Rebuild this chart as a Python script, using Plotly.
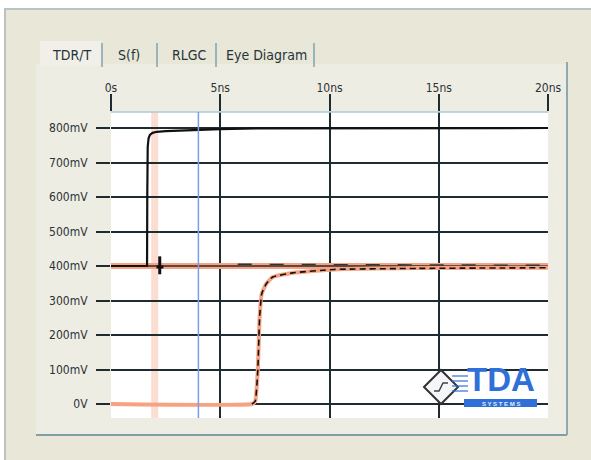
import plotly.graph_objects as go

# ---------------- data ----------------
x_tick_vals = [0, 5, 10, 15, 20]
x_tick_text = ["0s", "5ns", "10ns", "15ns", "20ns"]
y_tick_vals = [0, 100, 200, 300, 400, 500, 600, 700, 800]
y_tick_text = ["0V", "100mV", "200mV", "300mV", "400mV", "500mV", "600mV", "700mV", "800mV"]

# incident level (orange, flat)
inc_t = [0, 20]
inc_v = [400, 400]

# transmitted waveform (orange, simulated)
trans_t = [0, 6.45, 6.6, 6.72, 6.8, 6.9, 7.1, 7.4, 8.3, 10.2, 14, 20]
trans_v = [0, 0, 8, 100, 250, 320, 348, 368, 380, 390, 394, 395]

# measured transmitted (black dashed)
meas_t = [6.45, 6.6, 6.72, 6.8, 6.9, 7.1, 7.4, 8.3, 10.2, 14, 20]
meas_v = [0, 8, 100, 250, 320, 348, 368, 380, 390, 393, 395]

# baseline level (thin black over the orange band)
base_t = [0, 20]
base_v = [400, 400]

# measured near 400 mV (black dashed)
ref_t = [5.8, 10, 15, 20]
ref_v = [405, 404, 403, 402]

# TDR waveform (black)
tdr_t = [0, 1.65, 1.66, 1.68, 1.72, 1.78, 1.9, 2.1, 2.5, 3.5, 4.0, 5.0, 6.7, 20]
tdr_v = [400, 400, 600, 745, 770, 780, 786, 789, 791, 793, 796, 797, 799, 800]

# small glitch near the cursor
gl_t = [2.23, 2.23, None, 2.08, 2.4]
gl_v = [428, 376, None, 397, 397]

cursor_a = 2.0
cursor_b = 4.0

# ---------------- geometry helpers ----------------
W, H = 591, 460
L, R, T, B = 111, 548, 112, 418
X0, X1 = 0.0, 20.0
PX_PER_MV = 0.345
Y_TOP = 800 + (128 - T) / PX_PER_MV
Y_BOT = -(B - 404) / PX_PER_MV


def px(x):
    return (x - L) / (R - L)


def py(y):
    return (B - y) / (B - T)


FONT = "DejaVu Sans Condensed, Liberation Sans Narrow, Arial Narrow, sans-serif"
GRID = "#1e2c32"
ORANGE = "#f5a383"
BLUE = "#2f6fd8"

fig = go.Figure()

fig.add_trace(go.Scatter(x=inc_t, y=inc_v, mode="lines",
                         line=dict(color=ORANGE, width=6), hoverinfo="skip"))
fig.add_trace(go.Scatter(x=base_t, y=base_v, mode="lines",
                         line=dict(color="#2a2a2a", width=1.3), hoverinfo="skip"))
fig.add_trace(go.Scatter(x=trans_t, y=trans_v, mode="lines",
                         line=dict(color=ORANGE, width=4, shape="spline", smoothing=0.4),
                         hoverinfo="skip"))
fig.add_trace(go.Scatter(x=meas_t, y=meas_v, mode="lines",
                         line=dict(color="#111", width=1.6, dash="6px,4px",
                                   shape="spline", smoothing=0.4), hoverinfo="skip"))
fig.add_trace(go.Scatter(x=ref_t, y=ref_v, mode="lines",
                         line=dict(color="#333", width=1.4, dash="14px,18px"), hoverinfo="skip"))
fig.add_trace(go.Scatter(x=tdr_t, y=tdr_v, mode="lines",
                         line=dict(color="#111", width=2.2), hoverinfo="skip"))
fig.add_trace(go.Scatter(x=gl_t, y=gl_v, mode="lines",
                         line=dict(color="#111", width=3), hoverinfo="skip"))

shapes = []
# window frame
shapes.append(dict(type="rect", xref="paper", yref="paper", layer="below",
                   x0=px(5), x1=px(593), y0=py(462), y1=py(9),
                   fillcolor="#e9e7d8", line=dict(color="#b9c3c2", width=2)))
# tab panel
shapes.append(dict(type="rect", xref="paper", yref="paper", layer="below",
                   x0=px(36), x1=px(567), y0=py(435), y1=py(64),
                   fillcolor="#eeede3", line=dict(width=0)))
shapes.append(dict(type="line", xref="paper", yref="paper", layer="below",
                   x0=px(36), x1=px(567), y0=py(435), y1=py(435),
                   line=dict(color="#7f9ea8", width=2)))
shapes.append(dict(type="line", xref="paper", yref="paper", layer="below",
                   x0=px(567), x1=px(567), y0=py(435), y1=py(62),
                   line=dict(color="#8fa9b0", width=2)))
# selected tab
shapes.append(dict(type="rect", xref="paper", yref="paper", layer="below",
                   x0=px(40), x1=px(101), y0=py(66), y1=py(41),
                   fillcolor="#f1f0e8", line=dict(width=0)))
for sx in [102, 157, 216, 314]:
    shapes.append(dict(type="line", xref="paper", yref="paper", layer="below",
                       x0=px(sx), x1=px(sx), y0=py(67), y1=py(43),
                       line=dict(color="#7fa3b3", width=1.5)))
# plot area background (white)
shapes.append(dict(type="rect", xref="paper", yref="paper", layer="below",
                   x0=0, x1=1, y0=0, y1=1, fillcolor="#ffffff", line=dict(width=0)))
# plot area top border (light blue)
shapes.append(dict(type="line", xref="paper", yref="paper",
                   x0=0, x1=1, y0=1, y1=1, line=dict(color="#a9cbd8", width=1.5)))
# cursors
shapes.append(dict(type="line", xref="x", yref="paper", layer="below",
                   x0=cursor_a, x1=cursor_a, y0=0, y1=1,
                   line=dict(color="rgba(247,170,140,0.4)", width=7)))
shapes.append(dict(type="line", xref="x", yref="paper",
                   x0=cursor_b, x1=cursor_b, y0=0, y1=1,
                   line=dict(color="#7d9ce8", width=1.5)))

# logo: diamond
cx, cy, r = 441, 387, 17
shapes.append(dict(type="path", xref="paper", yref="paper",
                   path=f"M {px(cx-r)} {py(cy)} L {px(cx)} {py(cy-r)} L {px(cx+r)} {py(cy)} L {px(cx)} {py(cy+r)} Z",
                   fillcolor="#f4f6fa", line=dict(color="#333", width=2)))
shapes.append(dict(type="path", xref="paper", yref="paper",
                   path=f"M {px(cx-7)} {py(cy+4)} L {px(cx-2)} {py(cy+4)} L {px(cx+2)} {py(cy-4)} L {px(cx+7)} {py(cy-4)}",
                   line=dict(color="#444", width=1.5)))
for ly in [376, 381, 386, 391]:
    shapes.append(dict(type="line", xref="paper", yref="paper",
                       x0=px(452), x1=px(468), y0=py(ly), y1=py(ly),
                       line=dict(color=BLUE, width=1.2)))
shapes.append(dict(type="rect", xref="paper", yref="paper",
                   x0=px(464), x1=px(537), y0=py(407), y1=py(399),
                   fillcolor=BLUE, line=dict(width=0)))

annotations = []
tabs = [("TDR/T", 71), ("S(f)", 129), ("RLGC", 189), ("Eye Diagram", 266)]
for txt, tx in tabs:
    annotations.append(dict(text=txt, x=px(tx), y=py(55), xref="paper", yref="paper",
                            showarrow=False, xanchor="center", yanchor="middle",
                            font=dict(family=FONT, size=14, color="#26343a")))
annotations.append(dict(text="<b>TDA</b>", x=px(501), y=py(399), xref="paper", yref="paper",
                        showarrow=False, xanchor="center", yanchor="bottom", borderpad=0,
                        font=dict(family="Liberation Sans, Arial, sans-serif", size=33, color=BLUE)))
annotations.append(dict(text="<b>S Y S T E M S</b>", x=px(500.5), y=py(403.5), xref="paper", yref="paper",
                        showarrow=False, xanchor="center", yanchor="middle", borderpad=0,
                        font=dict(family="Liberation Sans, Arial, sans-serif", size=6, color="#e8eefc")))

fig.update_layout(
    width=W, height=H,
    margin=dict(l=L, r=W - R, t=T, b=H - B, pad=0),
    paper_bgcolor="#ffffff",
    plot_bgcolor="#ffffff",
    showlegend=False,
    shapes=shapes,
    annotations=annotations,
    xaxis=dict(range=[X0, X1], side="top", tickvals=x_tick_vals, ticktext=x_tick_text,
               showgrid=True, gridcolor=GRID, gridwidth=1.6, zeroline=False,
               ticks="outside", ticklen=17, tickwidth=1.6, tickcolor=GRID,
               ticklabelstandoff=-3,
               showline=False, fixedrange=True,
               tickfont=dict(family=FONT, size=12, color="#2a3338")),
    yaxis=dict(range=[Y_BOT, Y_TOP], tickvals=y_tick_vals, ticktext=y_tick_text,
               showgrid=True, gridcolor=GRID, gridwidth=1.6, zeroline=False,
               ticks="outside", ticklen=14, tickwidth=1.6, tickcolor=GRID,
               ticklabelstandoff=6,
               showline=False, fixedrange=True,
               tickfont=dict(family=FONT, size=12, color="#2a3338")),
)

fig.write_html("out.html", config=dict(displayModeBar=False),
               post_script="document.body.style.margin='0px';document.body.style.overflow='hidden';")
